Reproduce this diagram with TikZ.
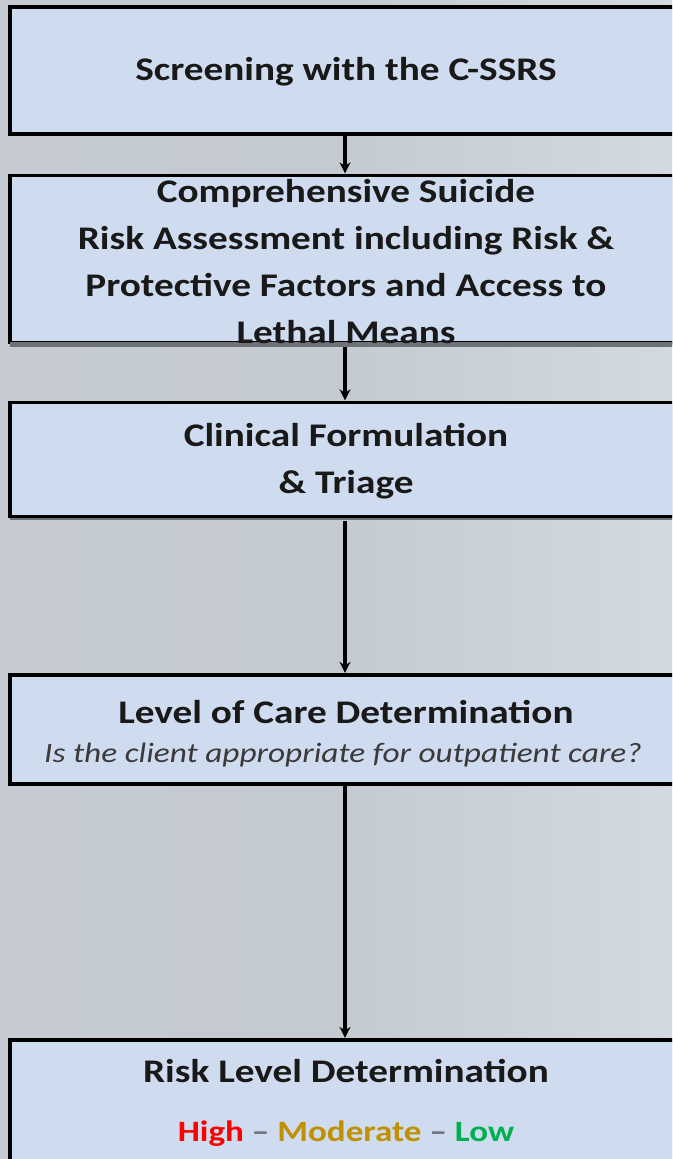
\documentclass[tikz,border=0pt]{standalone}
\usepackage{fontspec}
\setmainfont{Carlito}[FakeStretch=1.19]
\usetikzlibrary{arrows.meta}
\definecolor{bgL}{HTML}{C6CBD3}
\definecolor{bgM}{HTML}{C4CAD2}
\definecolor{bgR}{HTML}{D3D9E1}
\definecolor{boxfill}{HTML}{CFDBEE}
\definecolor{shadowgray}{HTML}{6E7177}
\definecolor{hired}{HTML}{FF0000}
\definecolor{modgold}{HTML}{BF9000}
\definecolor{lowgreen}{HTML}{00B050}
\definecolor{dashgray}{HTML}{6F7480}
\definecolor{italgray}{HTML}{3A3A3A}
\tikzset{
  stepbox/.style={draw=black, fill=boxfill, line width=3.2pt, rectangle, inner sep=0pt, minimum width=672pt},
  boxtext/.style={font=\bfseries\fontsize{33}{47}\selectfont, align=center, text=black!90, inner sep=0pt},
  flow/.style={line width=3.2pt, -{Stealth[length=11pt,width=11pt]}, shorten >=0.5pt}
}
\begin{document}
\begin{tikzpicture}[x=1pt,y=-1pt]
\useasboundingbox (0,0) rectangle (672,1159);
\shade[left color=bgL, right color=bgR, middle color=bgM] (0,0) rectangle (672,1159);
\begin{scope}
\clip (0,0) rectangle (672,1159);
% shadows
\fill[shadowgray] (10,178) rectangle (682,346.5);
\fill[shadowgray] (10,405) rectangle (682,519.5);
% boxes
\node[stepbox, minimum height=127pt] (b1) at (346,70.5) {};
\node[stepbox, minimum height=167pt] (b2) at (346,259) {};
\node[stepbox, minimum height=114pt] (b3) at (346,459.5) {};
\node[stepbox, minimum height=109pt] (b4) at (346,729.5) {};
\node[stepbox, minimum height=140pt] (b5) at (346,1110) {};
\draw[line width=3pt, shadowgray] (10,343.5) -- (682,343.5);
\end{scope}
% texts
\node[boxtext] (t1) at (346,72) {Screening with the C-SSRS};
\node[boxtext] (t2) at (346,261.5) {Comprehensive Suicide\\Risk Assessment including Risk \&\\Protective Factors and Access to\\Lethal Means};
\node[boxtext] (t3) at (346,461) {Clinical Formulation\\\& Triage};
\node[boxtext] (t4a) at (346,712) {Level of Care Determination};
\node[boxtext, font=\itshape\fontsize{28}{30}\selectfont, text=italgray] (t4b) at (343,755) {Is the client appropriate for outpatient care?};
\node[boxtext] (t5a) at (346,1071) {Risk Level Determination};
\node[boxtext, font=\bfseries\fontsize{29.5}{35}\selectfont] (t5b) at (346,1134) {\textcolor{hired}{High} \textcolor{dashgray}{–} \textcolor{modgold}{Moderate} \textcolor{dashgray}{–} \textcolor{lowgreen}{Low}};
% arrows
\draw[flow] ([xshift=-1pt]b1.south) -- ([xshift=-1pt]b2.north);
\draw[flow] ([xshift=-1pt,yshift=-3pt]b2.south) -- ([xshift=-1pt]b3.north);
\draw[flow] ([xshift=-1pt,yshift=-3pt]b3.south) -- ([xshift=-1pt]b4.north);
\draw[flow] ([xshift=-1pt]b4.south) -- ([xshift=-1pt]b5.north);
\end{tikzpicture}
\end{document}
